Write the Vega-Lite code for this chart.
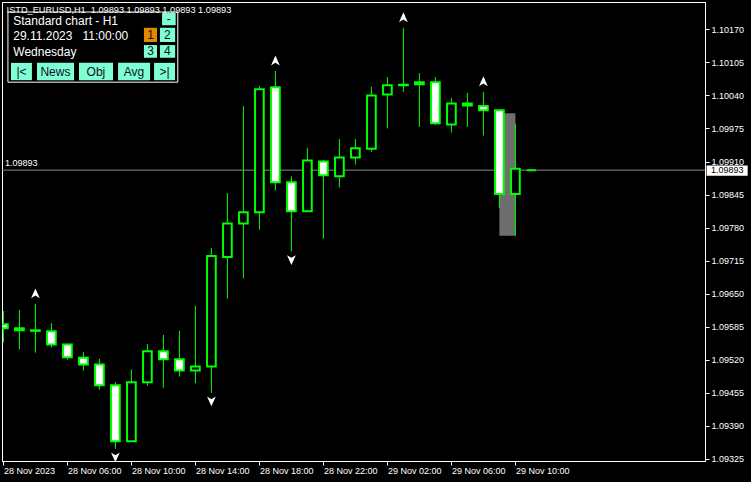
{
"$schema": "https://vega.github.io/schema/vega-lite/v6.json",
"width": 703, "height": 459,
"autosize": {"type": "none"},
"padding": {"left": 2, "top": 2, "right": 46, "bottom": 21},
"background": "black",
"config": {"view": {"stroke": "white", "strokeWidth": 1}, "axis": {"labelOverlap": false}, "scale": {"continuousPadding": 0}},
"datasets": {
"candles": [
{"t":"2023-11-28T02:00:00Z","o":1.09590,"h":1.09616,"l":1.09554,"c":1.09582},
{"t":"2023-11-28T03:00:00Z","o":1.09582,"h":1.09618,"l":1.09541,"c":1.09578},
{"t":"2023-11-28T04:00:00Z","o":1.09578,"h":1.09630,"l":1.09534,"c":1.09577,"f":"up"},
{"t":"2023-11-28T05:00:00Z","o":1.09576,"h":1.09592,"l":1.09544,"c":1.09550},
{"t":"2023-11-28T06:00:00Z","o":1.09550,"h":1.09552,"l":1.09520,"c":1.09525},
{"t":"2023-11-28T07:00:00Z","o":1.09524,"h":1.09535,"l":1.09499,"c":1.09511},
{"t":"2023-11-28T08:00:00Z","o":1.09511,"h":1.09522,"l":1.09461,"c":1.09470},
{"t":"2023-11-28T09:00:00Z","o":1.09470,"h":1.09476,"l":1.09345,"c":1.09360,"f":"down"},
{"t":"2023-11-28T10:00:00Z","o":1.09360,"h":1.09501,"l":1.09359,"c":1.09476},
{"t":"2023-11-28T11:00:00Z","o":1.09476,"h":1.09551,"l":1.09469,"c":1.09537},
{"t":"2023-11-28T12:00:00Z","o":1.09537,"h":1.09569,"l":1.09465,"c":1.09521},
{"t":"2023-11-28T13:00:00Z","o":1.09521,"h":1.09577,"l":1.09487,"c":1.09499},
{"t":"2023-11-28T14:00:00Z","o":1.09499,"h":1.09626,"l":1.09474,"c":1.09507},
{"t":"2023-11-28T15:00:00Z","o":1.09507,"h":1.09740,"l":1.09455,"c":1.09724,"f":"down"},
{"t":"2023-11-28T16:00:00Z","o":1.09722,"h":1.09848,"l":1.09640,"c":1.09788},
{"t":"2023-11-28T17:00:00Z","o":1.09788,"h":1.10019,"l":1.09680,"c":1.09810},
{"t":"2023-11-28T18:00:00Z","o":1.09810,"h":1.10059,"l":1.09776,"c":1.10052},
{"t":"2023-11-28T19:00:00Z","o":1.10056,"h":1.10088,"l":1.09853,"c":1.09869,"f":"up"},
{"t":"2023-11-28T20:00:00Z","o":1.09869,"h":1.09881,"l":1.09733,"c":1.09812,"f":"down"},
{"t":"2023-11-28T21:00:00Z","o":1.09812,"h":1.09937,"l":1.09811,"c":1.09912},
{"t":"2023-11-28T22:00:00Z","o":1.09910,"h":1.09913,"l":1.09758,"c":1.09883},
{"t":"2023-11-28T23:00:00Z","o":1.09881,"h":1.09954,"l":1.09859,"c":1.09918},
{"t":"2023-11-29T00:00:00Z","o":1.09918,"h":1.09954,"l":1.09904,"c":1.09936},
{"t":"2023-11-29T01:00:00Z","o":1.09935,"h":1.10057,"l":1.09929,"c":1.10040},
{"t":"2023-11-29T02:00:00Z","o":1.10042,"h":1.10076,"l":1.09975,"c":1.10060},
{"t":"2023-11-29T03:00:00Z","o":1.10060,"h":1.10173,"l":1.10047,"c":1.10061,"f":"up"},
{"t":"2023-11-29T04:00:00Z","o":1.10066,"h":1.10084,"l":1.09978,"c":1.10062},
{"t":"2023-11-29T05:00:00Z","o":1.10066,"h":1.10076,"l":1.09982,"c":1.09985},
{"t":"2023-11-29T06:00:00Z","o":1.09983,"h":1.10035,"l":1.09967,"c":1.10024},
{"t":"2023-11-29T07:00:00Z","o":1.10024,"h":1.10045,"l":1.09978,"c":1.10020},
{"t":"2023-11-29T08:00:00Z","o":1.10019,"h":1.10047,"l":1.09961,"c":1.10011,"f":"up"},
{"t":"2023-11-29T09:00:00Z","o":1.10011,"h":1.10012,"l":1.09819,"c":1.09846},
{"t":"2023-11-29T10:00:00Z","o":1.09846,"h":1.09984,"l":1.09764,"c":1.09896},
{"t":"2023-11-29T11:00:00Z","o":1.09893,"h":1.09893,"l":1.09893,"c":1.09893}
],
"zone": [{"start":"2023-11-29T09:00:00Z","end":"2023-11-29T10:00:00Z","top":1.10005,"bottom":1.09764}],
"one": [{}]
},
"layer": [
{"data": {"name":"one"},
 "mark": {"type":"rule","color":"#8a8a8a","strokeWidth":1},
 "encoding": {"y": {"datum": 1.09893, "type": "quantitative"}}},
{"data": {"name":"zone"},
 "mark": {"type":"rect","fill":"#6e6e6e","clip":true},
 "encoding": {
  "x": {"field":"start","type":"temporal","title":null},
  "x2": {"field":"end"},
  "y": {"field":"top","type":"quantitative","title":null},
  "y2": {"field":"bottom"}}},
{"data": {"name":"candles"},
 "mark": {"type":"rule","color":"#00ff00","strokeWidth":1,"clip":true},
 "encoding": {
  "x": {"field":"t","type":"temporal","title":null,
    "scale": {"type":"utc","nice":false,"padding":0,"domain":[{"year":2023,"month":11,"date":28,"hours":1,"minutes":54,"seconds":45,"utc":true},{"year":2023,"month":11,"date":29,"hours":21,"minutes":51,"utc":true}]},
    "axis": {"orient":"bottom","grid":false,"domainColor":"white","tickColor":"white","tickSize":4,"tickCount":20,
      "labelColor":"white","labelFont":"Liberation Sans","labelFontSize":9,"labelAlign":"left","labelBaseline":"top",
      "labelFlush":false,"labelOverlap":false,"labelPadding":1,"labelDx":-1,
      "values":[
       {"year":2023,"month":11,"date":28,"hours":2,"utc":true},
       {"year":2023,"month":11,"date":28,"hours":6,"utc":true},
       {"year":2023,"month":11,"date":28,"hours":10,"utc":true},
       {"year":2023,"month":11,"date":28,"hours":14,"utc":true},
       {"year":2023,"month":11,"date":28,"hours":18,"utc":true},
       {"year":2023,"month":11,"date":28,"hours":22,"utc":true},
       {"year":2023,"month":11,"date":29,"hours":2,"utc":true},
       {"year":2023,"month":11,"date":29,"hours":6,"utc":true},
       {"year":2023,"month":11,"date":29,"hours":10,"utc":true}],
      "labelExpr":"utcFormat(datum.value, '%d %H') == '28 02' ? '28 Nov 2023' : utcFormat(datum.value, '%d %b %H:%M')"}},
  "y": {"field":"l","type":"quantitative","title":null,
    "scale": {"domain":[1.09321,1.102237],"nice":false,"zero":false,"padding":0},
    "axis": {"orient":"right","grid":false,"domainColor":"white","tickColor":"white","tickSize":4,"tickCount":20,
      "labelColor":"white","labelFont":"Liberation Sans","labelFontSize":9,"labelPadding":2,"labelOverlap":false,
      "format":".5f",
      "values":[1.09325,1.0939,1.09455,1.0952,1.09585,1.0965,1.09715,1.0978,1.09845,1.0991,1.09975,1.1004,1.10105,1.1017]}},
  "y2": {"field":"h"}}},
{"data": {"name":"candles"},
 "mark": {"type":"bar","size":8.7,"stroke":"#00ff00","strokeWidth":2,"clip":true},
 "encoding": {
  "x": {"field":"t","type":"temporal","title":null},
  "y": {"field":"o","type":"quantitative","title":null},
  "y2": {"field":"c"},
  "fill": {"condition": {"test":"datum.c < datum.o","value":"white"},"value":"black"}}},
{"data": {"name":"candles"},
 "transform": [{"filter":"datum.f == 'up'"}],
 "mark": {"type":"point","shape":"M0,-1L0.8,0.8L0,0.3L-0.8,0.8Z","filled":true,"color":"white","opacity":1,"size":120,"yOffset":-10},
 "encoding": {
  "x": {"field":"t","type":"temporal","title":null},
  "y": {"field":"h","type":"quantitative","title":null}}},
{"data": {"name":"candles"},
 "transform": [{"filter":"datum.f == 'down'"}],
 "mark": {"type":"point","shape":"M0,1L0.8,-0.8L0,-0.3L-0.8,-0.8Z","filled":true,"color":"white","opacity":1,"size":120,"yOffset":8},
 "encoding": {
  "x": {"field":"t","type":"temporal","title":null},
  "y": {"field":"l","type":"quantitative","title":null}}},
{"data": {"name":"one"},
 "mark": {"type":"text","text":"1.09893","align":"left","baseline":"bottom","dy":-2,"font":"Liberation Sans","fontSize":9,"color":"white"},
 "encoding": {"x": {"datum":{"year":2023,"month":11,"date":28,"hours":2,"minutes":6,"utc":true},"type":"temporal"},
  "y": {"datum":1.09893,"type":"quantitative"}}},
{"data": {"name":"one"},
 "mark": {"type":"rect","fill":"white","clip":false},
 "encoding": {"x": {"datum":{"year":2023,"month":11,"date":29,"hours":21,"minutes":57,"utc":true},"type":"temporal"},
  "x2": {"datum":{"year":2023,"month":11,"date":30,"hours":0,"minutes":31,"utc":true}},
  "y": {"datum":1.09902,"type":"quantitative"},"y2": {"datum":1.09882}}},
{"data": {"name":"one"},
 "mark": {"type":"text","text":"1.09893","align":"left","baseline":"middle","font":"Liberation Sans","fontSize":9,"color":"black","clip":false},
 "encoding": {"x": {"datum":{"year":2023,"month":11,"date":29,"hours":22,"minutes":13,"seconds":30,"utc":true},"type":"temporal"},
  "y": {"datum":1.09893,"type":"quantitative"}}},
{"data": {"name":"one"},
 "mark": {"type":"rect","fill":"black","stroke":"white","strokeWidth":1},
 "encoding": {"x": {"datum":{"year":2023,"month":11,"date":28,"hours":2,"minutes":17,"utc":true},"type":"temporal"},
  "x2": {"datum":{"year":2023,"month":11,"date":28,"hours":12,"minutes":54,"utc":true}},
  "y": {"datum":1.10204,"type":"quantitative"},"y2": {"datum":1.10066}}},
{"data": {"name":"one"},
 "mark": {"type":"text","text":"ISTD_EURUSD,H1\u00a0\u00a01.09893 1.09893 1.09893 1.09893","align":"left","baseline":"middle","font":"Liberation Sans","fontSize":9.2,"color":"white"},
 "encoding": {"x": {"datum":{"year":2023,"month":11,"date":28,"hours":2,"minutes":12,"utc":true},"type":"temporal"},
  "y": {"datum":1.10208,"type":"quantitative"}}},
{"data": {"name":"one"},
 "mark": {"type":"text","text":"Standard chart - H1","align":"left","baseline":"middle","font":"Liberation Sans","fontSize":12,"color":"white"},
 "encoding": {"x": {"datum":{"year":2023,"month":11,"date":28,"hours":2,"minutes":37,"utc":true},"type":"temporal"},
  "y": {"datum":1.10186,"type":"quantitative"}}},
{"data": {"name":"one"},
 "mark": {"type":"text","text":"29.11.2023\u00a0\u00a0\u00a011:00:00","align":"left","baseline":"middle","font":"Liberation Sans","fontSize":12,"color":"white"},
 "encoding": {"x": {"datum":{"year":2023,"month":11,"date":28,"hours":2,"minutes":37,"utc":true},"type":"temporal"},
  "y": {"datum":1.10157,"type":"quantitative"}}},
{"data": {"name":"one"},
 "mark": {"type":"text","text":"Wednesday","align":"left","baseline":"middle","font":"Liberation Sans","fontSize":12,"color":"white"},
 "encoding": {"x": {"datum":{"year":2023,"month":11,"date":28,"hours":2,"minutes":37,"utc":true},"type":"temporal"},
  "y": {"datum":1.10126,"type":"quantitative"}}},
{"data": {"name":"one"},
 "mark": {"type":"rect","fill":"#7fffd4"},
 "encoding": {"x": {"datum":{"year":2023,"month":11,"date":28,"hours":11,"minutes":55,"utc":true},"type":"temporal"},
  "x2": {"datum":{"year":2023,"month":11,"date":28,"hours":12,"minutes":46,"utc":true}},
  "y": {"datum":1.10202,"type":"quantitative"},"y2": {"datum":1.10178}}},
{"data": {"name":"one"},
 "mark": {"type":"text","text":"-","align":"center","baseline":"middle","font":"Liberation Sans","fontSize":12,"color":"#101020"},
 "encoding": {"x": {"datum":{"year":2023,"month":11,"date":28,"hours":12,"minutes":20,"utc":true},"type":"temporal"},
  "y": {"datum":1.10190,"type":"quantitative"}}},
{"data": {"name":"one"},
 "mark": {"type":"rect","fill":"#e08a00"},
 "encoding": {"x": {"datum":{"year":2023,"month":11,"date":28,"hours":10,"minutes":47,"utc":true},"type":"temporal"},
  "x2": {"datum":{"year":2023,"month":11,"date":28,"hours":11,"minutes":36,"utc":true}},
  "y": {"datum":1.10173,"type":"quantitative"},"y2": {"datum":1.10145}}},
{"data": {"name":"one"},
 "mark": {"type":"text","text":"1","align":"center","baseline":"middle","font":"Liberation Sans","fontSize":12,"color":"#101020"},
 "encoding": {"x": {"datum":{"year":2023,"month":11,"date":28,"hours":11,"minutes":12,"utc":true},"type":"temporal"},
  "y": {"datum":1.10159,"type":"quantitative"}}},
{"data": {"name":"one"},
 "mark": {"type":"rect","fill":"#7fffd4"},
 "encoding": {"x": {"datum":{"year":2023,"month":11,"date":28,"hours":11,"minutes":47,"utc":true},"type":"temporal"},
  "x2": {"datum":{"year":2023,"month":11,"date":28,"hours":12,"minutes":44,"utc":true}},
  "y": {"datum":1.10173,"type":"quantitative"},"y2": {"datum":1.10145}}},
{"data": {"name":"one"},
 "mark": {"type":"text","text":"2","align":"center","baseline":"middle","font":"Liberation Sans","fontSize":12,"color":"#101020"},
 "encoding": {"x": {"datum":{"year":2023,"month":11,"date":28,"hours":12,"minutes":15,"utc":true},"type":"temporal"},
  "y": {"datum":1.10159,"type":"quantitative"}}},
{"data": {"name":"one"},
 "mark": {"type":"rect","fill":"#7fffd4"},
 "encoding": {"x": {"datum":{"year":2023,"month":11,"date":28,"hours":10,"minutes":47,"utc":true},"type":"temporal"},
  "x2": {"datum":{"year":2023,"month":11,"date":28,"hours":11,"minutes":36,"utc":true}},
  "y": {"datum":1.10139,"type":"quantitative"},"y2": {"datum":1.10114}}},
{"data": {"name":"one"},
 "mark": {"type":"text","text":"3","align":"center","baseline":"middle","font":"Liberation Sans","fontSize":12,"color":"#101020"},
 "encoding": {"x": {"datum":{"year":2023,"month":11,"date":28,"hours":11,"minutes":12,"utc":true},"type":"temporal"},
  "y": {"datum":1.101265,"type":"quantitative"}}},
{"data": {"name":"one"},
 "mark": {"type":"rect","fill":"#7fffd4"},
 "encoding": {"x": {"datum":{"year":2023,"month":11,"date":28,"hours":11,"minutes":47,"utc":true},"type":"temporal"},
  "x2": {"datum":{"year":2023,"month":11,"date":28,"hours":12,"minutes":44,"utc":true}},
  "y": {"datum":1.10139,"type":"quantitative"},"y2": {"datum":1.10114}}},
{"data": {"name":"one"},
 "mark": {"type":"text","text":"4","align":"center","baseline":"middle","font":"Liberation Sans","fontSize":12,"color":"#101020"},
 "encoding": {"x": {"datum":{"year":2023,"month":11,"date":28,"hours":12,"minutes":15,"utc":true},"type":"temporal"},
  "y": {"datum":1.101265,"type":"quantitative"}}},
{"data": {"name":"one"},
 "mark": {"type":"rect","fill":"#7fffd4"},
 "encoding": {"x": {"datum":{"year":2023,"month":11,"date":28,"hours":2,"minutes":28,"seconds":30,"utc":true},"type":"temporal"},
  "x2": {"datum":{"year":2023,"month":11,"date":28,"hours":3,"minutes":47,"utc":true}},
  "y": {"datum":1.10104,"type":"quantitative"},"y2": {"datum":1.10070}}},
{"data": {"name":"one"},
 "mark": {"type":"text","text":"|<","align":"center","baseline":"middle","font":"Liberation Sans","fontSize":12,"color":"#101020"},
 "encoding": {"x": {"datum":{"year":2023,"month":11,"date":28,"hours":3,"minutes":8,"utc":true},"type":"temporal"},
  "y": {"datum":1.10087,"type":"quantitative"}}},
{"data": {"name":"one"},
 "mark": {"type":"rect","fill":"#7fffd4"},
 "encoding": {"x": {"datum":{"year":2023,"month":11,"date":28,"hours":4,"minutes":6,"utc":true},"type":"temporal"},
  "x2": {"datum":{"year":2023,"month":11,"date":28,"hours":6,"minutes":25,"utc":true}},
  "y": {"datum":1.10104,"type":"quantitative"},"y2": {"datum":1.10070}}},
{"data": {"name":"one"},
 "mark": {"type":"text","text":"News","align":"center","baseline":"middle","font":"Liberation Sans","fontSize":12,"color":"#101020"},
 "encoding": {"x": {"datum":{"year":2023,"month":11,"date":28,"hours":5,"minutes":15,"utc":true},"type":"temporal"},
  "y": {"datum":1.10087,"type":"quantitative"}}},
{"data": {"name":"one"},
 "mark": {"type":"rect","fill":"#7fffd4"},
 "encoding": {"x": {"datum":{"year":2023,"month":11,"date":28,"hours":6,"minutes":43,"seconds":30,"utc":true},"type":"temporal"},
  "x2": {"datum":{"year":2023,"month":11,"date":28,"hours":8,"minutes":51,"utc":true}},
  "y": {"datum":1.10104,"type":"quantitative"},"y2": {"datum":1.10070}}},
{"data": {"name":"one"},
 "mark": {"type":"text","text":"Obj","align":"center","baseline":"middle","font":"Liberation Sans","fontSize":12,"color":"#101020"},
 "encoding": {"x": {"datum":{"year":2023,"month":11,"date":28,"hours":7,"minutes":47,"utc":true},"type":"temporal"},
  "y": {"datum":1.10087,"type":"quantitative"}}},
{"data": {"name":"one"},
 "mark": {"type":"rect","fill":"#7fffd4"},
 "encoding": {"x": {"datum":{"year":2023,"month":11,"date":28,"hours":9,"minutes":10,"utc":true},"type":"temporal"},
  "x2": {"datum":{"year":2023,"month":11,"date":28,"hours":11,"minutes":10,"utc":true}},
  "y": {"datum":1.10104,"type":"quantitative"},"y2": {"datum":1.10070}}},
{"data": {"name":"one"},
 "mark": {"type":"text","text":"Avg","align":"center","baseline":"middle","font":"Liberation Sans","fontSize":12,"color":"#101020"},
 "encoding": {"x": {"datum":{"year":2023,"month":11,"date":28,"hours":10,"minutes":10,"utc":true},"type":"temporal"},
  "y": {"datum":1.10087,"type":"quantitative"}}},
{"data": {"name":"one"},
 "mark": {"type":"rect","fill":"#7fffd4"},
 "encoding": {"x": {"datum":{"year":2023,"month":11,"date":28,"hours":11,"minutes":25,"utc":true},"type":"temporal"},
  "x2": {"datum":{"year":2023,"month":11,"date":28,"hours":12,"minutes":43,"seconds":30,"utc":true}},
  "y": {"datum":1.10104,"type":"quantitative"},"y2": {"datum":1.10070}}},
{"data": {"name":"one"},
 "mark": {"type":"text","text":">|","align":"center","baseline":"middle","font":"Liberation Sans","fontSize":12,"color":"#101020"},
 "encoding": {"x": {"datum":{"year":2023,"month":11,"date":28,"hours":12,"minutes":4,"utc":true},"type":"temporal"},
  "y": {"datum":1.10087,"type":"quantitative"}}}
]
}
